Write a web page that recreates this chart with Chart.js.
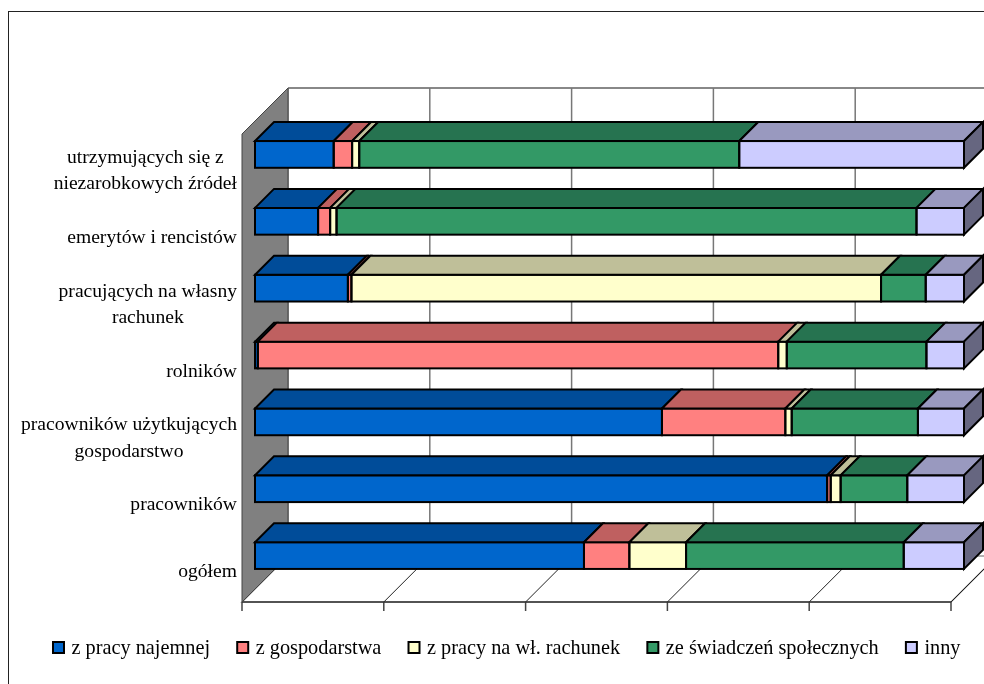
<!DOCTYPE html>
<html>
<head>
<meta charset="utf-8">
<script src="https://cdn.jsdelivr.net/npm/chart.js@4.4.0/dist/chart.umd.min.js"></script>
<style>
html, body { margin: 0; padding: 0; background: #fff; }
</style>
</head>
<body>
<canvas id="chart" width="984" height="684"></canvas>
<script>
// dane (udział procentowy wg źródła dochodu)
const categories = [
    ['utrzymujących się z', 'niezarobkowych źródeł'],
    'emerytów i rencistów',
    ['pracujących na własny', 'rachunek'],
    'rolników',
    ['pracowników użytkujących', 'gospodarstwo'],
    'pracowników',
    'ogółem'
];
const seriesNames = ['z pracy najemnej', 'z gospodarstwa', 'z pracy na wł. rachunek', 'ze świadczeń społecznych', 'inny'];
const zPracyNajemnej = [11.1, 8.9, 13.1, 0.4, 57.4, 80.7, 46.4];
const zGospodarstwa = [2.6, 1.7, 0.5, 73.4, 17.4, 0.5, 6.4];
const zPracyNaWlRachunek = [1.0, 0.9, 74.7, 1.2, 0.9, 1.4, 8.0];
const zeSwiadczen = [53.6, 81.8, 6.3, 19.7, 17.8, 9.4, 30.7];
const inny = [31.7, 6.7, 5.4, 5.3, 6.5, 8.0, 8.5];
const xTicks = [0, 20, 40, 60, 80, 100];

const frontColors = ['#0066CC', '#FF8080', '#FFFFCC', '#339966', '#CCCCFF'];
const topColors = ['#004C99', '#BF6060', '#BFBF99', '#267350', '#9999BF'];
const sideColors = ['#003366', '#804040', '#808066', '#1A4D33', '#666680'];

const LABEL_FONT = '19.6px "Liberation Serif", "Times New Roman", serif';
const LEGEND_FONT = '20.3px "Liberation Serif", "Times New Roman", serif';
const D = 46;   // glebokosc scian
const BF = 13;  // przesuniecie przodu slupka
const BD = 19;  // glebokosc slupka

function poly(ctx, pts, fill, stroke, lw) {
    ctx.beginPath();
    ctx.moveTo(pts[0][0], pts[0][1]);
    for (let i = 1; i < pts.length; i++) ctx.lineTo(pts[i][0], pts[i][1]);
    ctx.closePath();
    if (fill) { ctx.fillStyle = fill; ctx.fill(); }
    if (stroke) { ctx.strokeStyle = stroke; ctx.lineWidth = lw || 1; ctx.stroke(); }
}

function line(ctx, x1, y1, x2, y2, color, lw) {
    ctx.beginPath();
    ctx.moveTo(x1, y1);
    ctx.lineTo(x2, y2);
    ctx.strokeStyle = color;
    ctx.lineWidth = lw;
    ctx.stroke();
}

const pseudo3d = {
    id: 'pseudo3d',
    beforeDatasetsDraw(chart) {
        const ctx = chart.ctx;
        const a = chart.chartArea;
        const xs = chart.scales.x;
        ctx.save();
        // ramka
        ctx.strokeStyle = '#222';
        ctx.lineWidth = 1;
        ctx.strokeRect(8.5, 11.5, 1000, 700);
        // tylna sciana
        poly(ctx, [[a.left + D, a.top - D], [a.right + D, a.top - D], [a.right + D, a.bottom - D], [a.left + D, a.bottom - D]], '#fff', null);
        line(ctx, a.left + D, a.top - D, a.right + D, a.top - D, '#888', 2);
        xTicks.forEach(v => {
            const px = xs.getPixelForValue(v) + D;
            line(ctx, px, a.top - D, px, a.bottom - D, '#777', 1.5);
        });
        // podloga
        poly(ctx, [[a.left, a.bottom], [a.right, a.bottom], [a.right + D, a.bottom - D], [a.left + D, a.bottom - D]], '#fff', '#999', 1.5);
        xTicks.forEach(v => {
            const px = xs.getPixelForValue(v);
            line(ctx, px, a.bottom, px + D, a.bottom - D, '#222', 1);
            line(ctx, px, a.bottom, px, a.bottom + 9, '#444', 1.5);
        });
        line(ctx, a.left, a.bottom, a.right, a.bottom, '#333', 1.5);
        // lewa sciana
        poly(ctx, [[a.left, a.top], [a.left + D, a.top - D], [a.left + D, a.bottom - D], [a.left, a.bottom]], '#808080', '#444', 1);
        ctx.restore();
        ctx.save();
        ctx.translate(BF, -BF);
    },
    afterDatasetsDraw(chart) {
        const ctx = chart.ctx;
        ctx.restore();
        ctx.save();
        ctx.lineJoin = 'miter';
        const n = chart.data.datasets.length;
        for (let i = 0; i < n; i++) {
            const meta = chart.getDatasetMeta(i);
            meta.data.forEach(el => {
                const x0 = Math.min(el.base, el.x) + BF;
                const x1 = Math.max(el.base, el.x) + BF;
                const yT = el.y - el.height / 2 - BF;
                const yB = el.y + el.height / 2 - BF;
                if (x1 - x0 < 0.3) return;
                // przod - obrys
                ctx.strokeStyle = '#000';
                ctx.lineWidth = 2;
                ctx.strokeRect(x0, yT, x1 - x0, yB - yT);
                // gora
                poly(ctx, [[x0, yT], [x1, yT], [x1 + BD, yT - BD], [x0 + BD, yT - BD]], topColors[i], '#000', 2);
                // bok ostatniego segmentu
                if (i === n - 1) {
                    poly(ctx, [[x1, yT], [x1 + BD, yT - BD], [x1 + BD, yB - BD], [x1, yB]], sideColors[i], '#000', 2);
                }
            });
        }
        ctx.restore();
    },
    afterDraw(chart) {
        const ctx = chart.ctx;
        const a = chart.chartArea;
        const ys = chart.scales.y;
        ctx.save();
        ctx.font = LABEL_FONT;
        ctx.fillStyle = '#000';
        ctx.textBaseline = 'middle';
        ctx.textAlign = 'center';
        // etykiety kategorii
        chart.data.labels.forEach((lab, i) => {
            const lines = Array.isArray(lab) ? lab : [lab];
            const w = Math.max(...lines.map(t => ctx.measureText(t).width));
            const cx = a.left - 5 - w / 2;
            const cy = ys.getPixelForValue(i) + 3.5;
            const lh = 26.5;
            lines.forEach((t, k) => {
                ctx.fillText(t, cx, cy + (k - (lines.length - 1) / 2) * lh);
            });
        });
        // legenda
        ctx.font = LEGEND_FONT;
        ctx.textAlign = 'left';
        let x = 53;
        const yBox = 642;
        chart.data.datasets.forEach((ds, i) => {
            ctx.fillStyle = ds.backgroundColor;
            ctx.fillRect(x, yBox, 11, 11);
            ctx.strokeStyle = '#000';
            ctx.lineWidth = 2;
            ctx.strokeRect(x, yBox, 11, 11);
            ctx.fillStyle = '#000';
            ctx.fillText(ds.label, x + 18.5, yBox + 6.5);
            x += 18.5 + ctx.measureText(ds.label).width + 27.2;
        });
        ctx.restore();
    }
};

const seriesValues = [zPracyNajemnej, zGospodarstwa, zPracyNaWlRachunek, zeSwiadczen, inny];

const ctx = document.getElementById('chart').getContext('2d');
const chart = new Chart(ctx, {
    type: 'bar',
    data: {
        labels: categories,
        datasets: seriesValues.map((vals, i) => ({
            label: seriesNames[i],
            data: vals,
            backgroundColor: frontColors[i],
            borderWidth: 0,
            categoryPercentage: 1,
            barPercentage: 0.4
        }))
    },
    options: {
        indexAxis: 'y',
        responsive: false,
        animation: false,
        layout: {
            padding: { left: 242, right: 33, top: 134, bottom: 82 }
        },
        scales: {
            x: { stacked: true, min: 0, max: 100, display: false },
            y: { stacked: true, display: false }
        },
        plugins: {
            legend: { display: false },
            tooltip: { enabled: false }
        }
    },
    plugins: [pseudo3d]
});
</script>
</body>
</html>
